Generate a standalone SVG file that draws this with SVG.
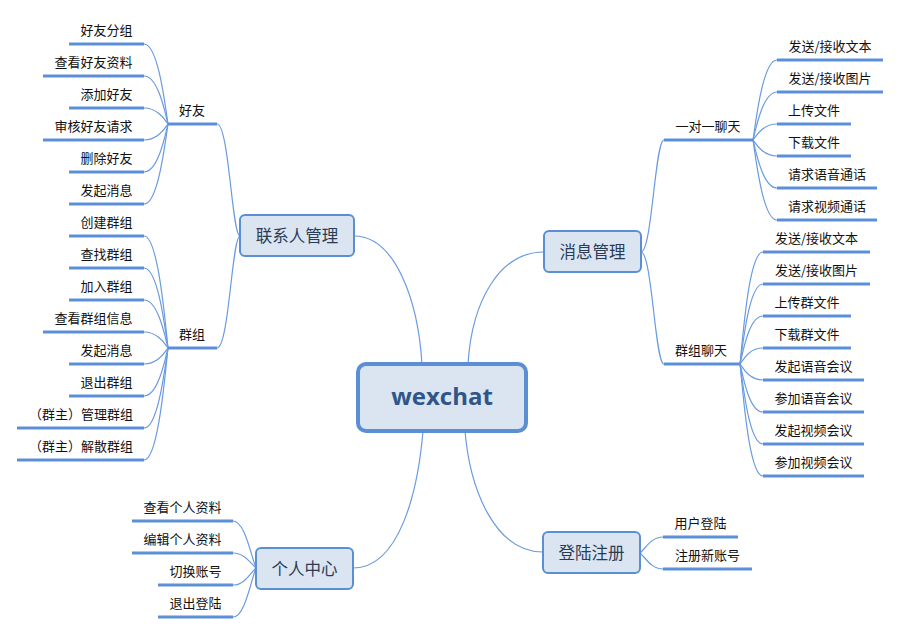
<svg xmlns="http://www.w3.org/2000/svg" width="901" height="634" viewBox="0 0 901 634">
<style>
.bg{fill:#ffffff}
.ul{stroke:#5b8fd6;stroke-width:3;fill:none}
.cv{stroke:#6a9be0;stroke-width:1.2;fill:none}
.box{fill:#dbe5f2;stroke:#5b8fd3;stroke-width:2}
.main{fill:#dbe5f2;stroke:#5b8fd3;stroke-width:4}
.t{font-family:"Noto Sans CJK SC","Liberation Sans",sans-serif;font-size:13px;fill:#111111;text-anchor:middle}
.bt{font-family:"Noto Sans CJK SC","Liberation Sans",sans-serif;font-size:16.5px;fill:#2a3c55;text-anchor:middle}
.mt{font-family:"Open Sans","Liberation Sans",sans-serif;font-size:24px;font-weight:700;fill:#2f5688;text-anchor:middle}
</style>
<rect class="bg" x="0" y="0" width="901" height="634"/>
<g id="connectors">
<!-- main -->
<path class="cv" d="M354,236 C395,236 418,300 422,364"/>
<path class="cv" d="M544,252 C500,252 472,300 468,364"/>
<path class="cv" d="M353,568 C400,568 418,490 423,431"/>
<path class="cv" d="M543,552 C495,552 470,490 465,431"/>
<!-- contacts -->
<path class="cv" d="M217,124 C229,124 232,236 240,236"/>
<path class="cv" d="M217,348 C229,348 232,236 240,236"/>
<path class="cv" d="M144,44 C158,44 165,104 168,124"/>
<path class="cv" d="M144,76 C158,76 165,112 168,124"/>
<path class="cv" d="M144,108 C158,108 165,120 168,124"/>
<path class="cv" d="M144,140 C158,140 165,128 168,124"/>
<path class="cv" d="M144,172 C158,172 165,136 168,124"/>
<path class="cv" d="M144,204 C158,204 165,144 168,124"/>
<path class="cv" d="M144,236 C158,236 165,320 168,348"/>
<path class="cv" d="M144,268 C158,268 165,328 168,348"/>
<path class="cv" d="M144,300 C158,300 165,336 168,348"/>
<path class="cv" d="M144,332 C158,332 165,344 168,348"/>
<path class="cv" d="M144,364 C158,364 165,352 168,348"/>
<path class="cv" d="M144,396 C158,396 165,360 168,348"/>
<path class="cv" d="M144,428 C158,428 165,368 168,348"/>
<path class="cv" d="M144,460 C158,460 165,376 168,348"/>
<!-- messages -->
<path class="cv" d="M641,252 C652,252 655,140 664,140"/>
<path class="cv" d="M641,252 C652,252 655,364 664,364"/>
<path class="cv" d="M753,140 C756,120 763,60 777,60"/>
<path class="cv" d="M753,140 C756,128 763,92 777,92"/>
<path class="cv" d="M753,140 C756,136 763,124 777,124"/>
<path class="cv" d="M753,140 C756,144 763,156 777,156"/>
<path class="cv" d="M753,140 C756,152 763,188 777,188"/>
<path class="cv" d="M753,140 C756,160 763,220 777,220"/>
<path class="cv" d="M740,364 C743,336 749,252 763,252"/>
<path class="cv" d="M740,364 C743,344 749,284 763,284"/>
<path class="cv" d="M740,364 C743,352 749,316 763,316"/>
<path class="cv" d="M740,364 C743,360 749,348 763,348"/>
<path class="cv" d="M740,364 C743,368 749,380 763,380"/>
<path class="cv" d="M740,364 C743,376 749,412 763,412"/>
<path class="cv" d="M740,364 C743,384 749,444 763,444"/>
<path class="cv" d="M740,364 C743,392 749,476 763,476"/>
<!-- personal -->
<path class="cv" d="M233,521 C245,521 251,556 256,568"/>
<path class="cv" d="M233,553 C245,553 251,564 256,568"/>
<path class="cv" d="M233,585 C245,585 251,572 256,568"/>
<path class="cv" d="M233,617 C245,617 251,580 256,568"/>
<!-- login -->
<path class="cv" d="M640,553 C645,549 651,537 663,537"/>
<path class="cv" d="M640,553 C645,557 651,569 663,569"/>
</g>
<g id="wexchat">
<rect class="main" x="358" y="364" width="168" height="67" rx="8"/>
<text class="mt" x="442" y="405">wexchat</text>
</g>
<g id="contacts">
<rect class="box" x="240" y="215" width="114" height="41" rx="5"/>
<text class="bt" x="297" y="242">联系人管理</text>
</g>
<g id="friends">
<line class="ul" x1="168" y1="124" x2="217" y2="124"/>
<text class="t" x="192" y="115">好友</text>
</g>
<g id="f1"><line class="ul" x1="69" y1="44" x2="144" y2="44"/><text class="t" x="106.5" y="35">好友分组</text></g>
<g id="f2"><line class="ul" x1="43" y1="76" x2="144" y2="76"/><text class="t" x="93.5" y="67">查看好友资料</text></g>
<g id="f3"><line class="ul" x1="69" y1="108" x2="144" y2="108"/><text class="t" x="106.5" y="99">添加好友</text></g>
<g id="f4"><line class="ul" x1="43" y1="140" x2="144" y2="140"/><text class="t" x="93.5" y="131">审核好友请求</text></g>
<g id="f5"><line class="ul" x1="69" y1="172" x2="144" y2="172"/><text class="t" x="106.5" y="163">删除好友</text></g>
<g id="f6"><line class="ul" x1="69" y1="204" x2="144" y2="204"/><text class="t" x="106.5" y="195">发起消息</text></g>
<g id="groups">
<line class="ul" x1="168" y1="348" x2="217" y2="348"/>
<text class="t" x="192" y="339">群组</text>
</g>
<g id="g1"><line class="ul" x1="69" y1="236" x2="144" y2="236"/><text class="t" x="106.5" y="227">创建群组</text></g>
<g id="g2"><line class="ul" x1="69" y1="268" x2="144" y2="268"/><text class="t" x="106.5" y="259">查找群组</text></g>
<g id="g3"><line class="ul" x1="69" y1="300" x2="144" y2="300"/><text class="t" x="106.5" y="291">加入群组</text></g>
<g id="g4"><line class="ul" x1="43" y1="332" x2="144" y2="332"/><text class="t" x="93.5" y="323">查看群组信息</text></g>
<g id="g5"><line class="ul" x1="69" y1="364" x2="144" y2="364"/><text class="t" x="106.5" y="355">发起消息</text></g>
<g id="g6"><line class="ul" x1="69" y1="396" x2="144" y2="396"/><text class="t" x="106.5" y="387">退出群组</text></g>
<g id="g7"><line class="ul" x1="17" y1="428" x2="144" y2="428"/><text class="t" x="81" y="419">（群主）管理群组</text></g>
<g id="g8"><line class="ul" x1="17" y1="460" x2="144" y2="460"/><text class="t" x="81" y="451">（群主）解散群组</text></g>
<g id="messages">
<rect class="box" x="544" y="231" width="97" height="41" rx="5"/>
<text class="bt" x="592.5" y="258">消息管理</text>
</g>
<g id="private">
<line class="ul" x1="664" y1="140" x2="753" y2="140"/>
<text class="t" x="708" y="131">一对一聊天</text>
</g>
<g id="p1"><line class="ul" x1="777" y1="60" x2="883" y2="60"/><text class="t" x="830" y="51">发送/接收文本</text></g>
<g id="p2"><line class="ul" x1="777" y1="92" x2="883" y2="92"/><text class="t" x="830" y="83">发送/接收图片</text></g>
<g id="p3"><line class="ul" x1="777" y1="124" x2="851" y2="124"/><text class="t" x="814" y="115">上传文件</text></g>
<g id="p4"><line class="ul" x1="777" y1="156" x2="851" y2="156"/><text class="t" x="814" y="147">下载文件</text></g>
<g id="p5"><line class="ul" x1="777" y1="188" x2="877" y2="188"/><text class="t" x="827" y="179">请求语音通话</text></g>
<g id="p6"><line class="ul" x1="777" y1="220" x2="877" y2="220"/><text class="t" x="827" y="211">请求视频通话</text></g>
<g id="groupchat">
<line class="ul" x1="664" y1="364" x2="740" y2="364"/>
<text class="t" x="701" y="355">群组聊天</text>
</g>
<g id="c1"><line class="ul" x1="763" y1="252" x2="870" y2="252"/><text class="t" x="816.5" y="243">发送/接收文本</text></g>
<g id="c2"><line class="ul" x1="763" y1="284" x2="870" y2="284"/><text class="t" x="816.5" y="275">发送/接收图片</text></g>
<g id="c3"><line class="ul" x1="763" y1="316" x2="851" y2="316"/><text class="t" x="807" y="307">上传群文件</text></g>
<g id="c4"><line class="ul" x1="763" y1="348" x2="851" y2="348"/><text class="t" x="807" y="339">下载群文件</text></g>
<g id="c5"><line class="ul" x1="763" y1="380" x2="864" y2="380"/><text class="t" x="813.5" y="371">发起语音会议</text></g>
<g id="c6"><line class="ul" x1="763" y1="412" x2="864" y2="412"/><text class="t" x="813.5" y="403">参加语音会议</text></g>
<g id="c7"><line class="ul" x1="763" y1="444" x2="864" y2="444"/><text class="t" x="813.5" y="435">发起视频会议</text></g>
<g id="c8"><line class="ul" x1="763" y1="476" x2="864" y2="476"/><text class="t" x="813.5" y="467">参加视频会议</text></g>
<g id="personal">
<rect class="box" x="256" y="548" width="97" height="41" rx="5"/>
<text class="bt" x="304.5" y="575">个人中心</text>
</g>
<g id="u1"><line class="ul" x1="132" y1="521" x2="233" y2="521"/><text class="t" x="182.5" y="512">查看个人资料</text></g>
<g id="u2"><line class="ul" x1="132" y1="553" x2="233" y2="553"/><text class="t" x="182.5" y="544">编辑个人资料</text></g>
<g id="u3"><line class="ul" x1="158" y1="585" x2="233" y2="585"/><text class="t" x="195.5" y="576">切换账号</text></g>
<g id="u4"><line class="ul" x1="158" y1="617" x2="233" y2="617"/><text class="t" x="195.5" y="608">退出登陆</text></g>
<g id="login">
<rect class="box" x="543" y="532" width="97" height="41" rx="5"/>
<text class="bt" x="591.5" y="559">登陆注册</text>
</g>
<g id="l1"><line class="ul" x1="663" y1="537" x2="738" y2="537"/><text class="t" x="700.5" y="528">用户登陆</text></g>
<g id="l2"><line class="ul" x1="663" y1="569" x2="752" y2="569"/><text class="t" x="707.5" y="560">注册新账号</text></g>
</svg>
